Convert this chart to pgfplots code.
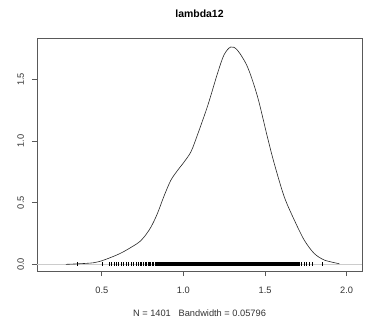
\documentclass[border=0pt]{standalone}
\usepackage{pgfplots}
\pgfplotsset{compat=1.18}
\usepackage{fontspec}
\setmainfont{Liberation Sans}
\begin{document}
\begin{tikzpicture}
\path[use as bounding box] (-37bp,-49bp) rectangle (330bp,271bp);
\begin{axis}[
  at={(0,0)}, anchor=south west,
  width=325bp, height=233bp, scale only axis,
  xmin=0.103, xmax=2.094, ymin=-0.054, ymax=1.836,
  axis line style={draw=black!65, line width=0.8bp},
  xtick={0.5,1.0,1.5,2.0}, xticklabels={0.5,1.0,1.5,2.0},
  ytick={0,0.5,1,1.5}, yticklabels={0.0,0.5,1.0,1.5},
  xtick pos=bottom, ytick pos=left,
  tick align=outside, major tick length=5bp,
  tick style={draw=black!65, line width=0.8bp},
  /pgf/number format/assume math mode=true,
  ticklabel style={font=\fontsize{9.3}{11}\selectfont, text=black!80},
  xticklabel style={anchor=base, yshift=-17bp},
  yticklabel style={rotate=90, anchor=base, yshift=8bp},
  title={\bfseries lambda12},
  title style={at={(0.5,1)}, anchor=base, yshift=15bp, font=\fontsize{10.5}{12}\selectfont},
  xlabel={N = 1401\ \ \ Bandwidth = 0.05796},
  xlabel style={at={(0.5,0)}, anchor=base, yshift=-45bp, font=\fontsize{9.3}{11}\selectfont, text=black!80},
  clip=false,
]
\addplot[black!20, line width=0.6bp] coordinates {(0.103,0) (2.094,0)};
\addplot[black!85, line width=0.6bp, smooth, tension=0.5] coordinates {
(0.28,0.000) (0.35,0.004) (0.45,0.013) (0.513,0.035) (0.615,0.09) (0.718,0.17)
(0.758,0.22) (0.80,0.30) (0.84,0.41) (0.88,0.55) (0.922,0.68) (0.963,0.76)
(1.004,0.83) (1.045,0.91) (1.075,1.01) (1.147,1.28) (1.209,1.55) (1.249,1.70)
(1.29,1.763) (1.331,1.737) (1.393,1.60) (1.454,1.36) (1.515,1.03) (1.556,0.82)
(1.617,0.55) (1.679,0.36) (1.74,0.197) (1.80,0.09) (1.863,0.035) (1.955,0.005)
};
\addplot[only marks, mark=|, mark size=2bp, mark options={line width=0.9bp, black}] coordinates {
(0.353,0) (0.503,0) (0.545,0) (0.56,0) (0.575,0) (0.59,0) (0.605,0) (0.62,0) (0.635,0)
(0.65,0) (0.665,0) (0.68,0) (0.695,0) (0.71,0) (0.725,0) (0.735,0) (0.745,0) (0.755,0)
(0.765,0) (0.775,0) (0.785,0) (0.79,0) (0.80,0) (0.81,0) (0.815,0)
(1.71,0) (1.725,0) (1.74,0) (1.755,0) (1.775,0) (1.79,0) (1.85,0)
};
\addplot[only marks, mark=|, mark size=2bp, mark options={line width=1.8bp, black}] coordinates {
(0.83,0)
(0.84,0) (0.85,0) (0.86,0) (0.87,0) (0.88,0) (0.89,0) (0.90,0) (0.91,0) (0.92,0)
(0.93,0) (0.94,0) (0.95,0) (0.96,0) (0.97,0) (0.98,0) (0.99,0) (1.00,0) (1.01,0)
(1.02,0) (1.03,0) (1.04,0) (1.05,0) (1.06,0) (1.07,0) (1.08,0) (1.09,0) (1.10,0)
(1.11,0) (1.12,0) (1.13,0) (1.14,0) (1.15,0) (1.16,0) (1.17,0) (1.18,0) (1.19,0)
(1.20,0) (1.21,0) (1.22,0) (1.23,0) (1.24,0) (1.25,0) (1.26,0) (1.27,0) (1.28,0)
(1.29,0) (1.30,0) (1.31,0) (1.32,0) (1.33,0) (1.34,0) (1.35,0) (1.36,0) (1.37,0)
(1.38,0) (1.39,0) (1.40,0) (1.41,0) (1.42,0) (1.43,0) (1.44,0) (1.45,0) (1.46,0)
(1.47,0) (1.48,0) (1.49,0) (1.50,0) (1.51,0) (1.52,0) (1.53,0) (1.54,0) (1.55,0)
(1.56,0) (1.57,0) (1.58,0) (1.59,0) (1.60,0) (1.61,0) (1.62,0) (1.63,0) (1.64,0)
(1.65,0) (1.66,0) (1.67,0) (1.68,0) (1.69,0) (1.70,0)
};
\end{axis}
\end{tikzpicture}
\end{document}
